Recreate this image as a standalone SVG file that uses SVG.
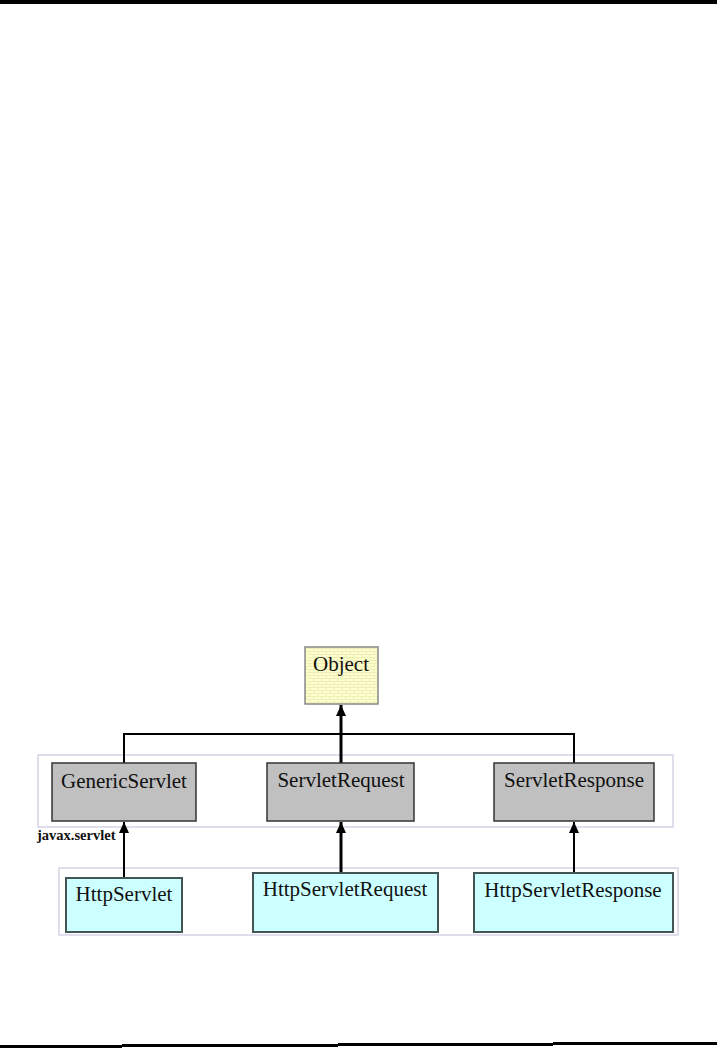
<svg xmlns="http://www.w3.org/2000/svg" width="717" height="1049" viewBox="0 0 717 1049">
<style>
.pkg{fill:none;stroke:#d4d4e6;stroke-width:1.5}
.grey{fill:#c0c0c0;stroke:#333;stroke-width:1.5}
.cyan{fill:#ccffff;stroke:#445555;stroke-width:2}
.lbl{font-family:"Liberation Serif","Times New Roman",serif;font-size:21px;fill:#111;text-anchor:middle}
.wire{fill:none;stroke:#000;stroke-width:2}
.thick{fill:none;stroke:#000;stroke-width:3}
</style>
<defs>
<pattern id="brick" width="8" height="6" patternUnits="userSpaceOnUse">
<rect width="8" height="6" fill="#ffffcc"/>
<path d="M0 0.5H8M0 3.5H8M2 0.5V3.5M6 3.5V6" stroke="#eeeebb" stroke-width="1"/>
</pattern>
<marker id="ah" markerWidth="12" markerHeight="10" refX="11" refY="5" orient="auto" markerUnits="userSpaceOnUse" viewBox="0 0 12 10">
<path d="M0 0L11 5L0 10Z" fill="#000"/>
</marker>
</defs>
<rect x="0" y="0" width="717" height="4" fill="#000"/>
<polygon points="0,1045 122,1045 122,1044 338,1044 338,1043 553,1043 553,1042 717,1042 717,1045 553,1045 553,1046 338,1046 338,1047 122,1047 122,1048 0,1048" fill="#000"/>

<g id="packages">
<rect class="pkg" x="38" y="755" width="635" height="72"/>
<rect class="pkg" x="59" y="868" width="619" height="67"/>
</g>

<g id="connectors">
<path class="wire" d="M124 763V734H574V763"/>
<path class="thick" d="M341 763V705" marker-end="url(#ah)"/>
<path class="wire" d="M124 878V822" marker-end="url(#ah)"/>
<path class="thick" d="M341 873V822" marker-end="url(#ah)"/>
<path class="wire" d="M574 873V822" marker-end="url(#ah)"/>
</g>

<g id="object">
<rect x="305" y="647" width="73" height="57" fill="url(#brick)" stroke="#888" stroke-width="1.5"/>
<text class="lbl" x="341" y="671">Object</text>
</g>
<g id="genericservlet">
<rect class="grey" x="52" y="763" width="144" height="58"/>
<text class="lbl" x="124" y="788">GenericServlet</text>
</g>
<g id="servletrequest">
<rect class="grey" x="267" y="763" width="147" height="58"/>
<text class="lbl" x="341" y="787">ServletRequest</text>
</g>
<g id="servletresponse">
<rect class="grey" x="494" y="763" width="160" height="58"/>
<text class="lbl" x="574" y="787">ServletResponse</text>
</g>
<g id="javaxservlet">
<text x="37" y="840" style="font-family:'Liberation Serif','Times New Roman',serif;font-weight:bold;font-size:14.5px;fill:#111">javax.servlet</text>
</g>
<g id="httpservlet">
<rect class="cyan" x="66" y="878" width="116" height="54"/>
<text class="lbl" x="124" y="901">HttpServlet</text>
</g>
<g id="httpservletrequest">
<rect class="cyan" x="253" y="873" width="185" height="59"/>
<text class="lbl" x="345" y="896">HttpServletRequest</text>
</g>
<g id="httpservletresponse">
<rect class="cyan" x="474" y="873" width="199" height="59"/>
<text class="lbl" x="573" y="897">HttpServletResponse</text>
</g>
</svg>
